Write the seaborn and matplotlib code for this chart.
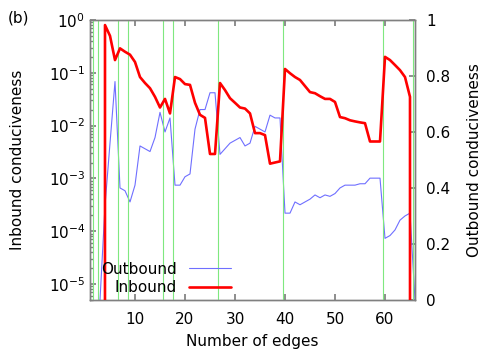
import matplotlib
matplotlib.use("Agg")
import pandas as pd
import matplotlib.pyplot as plt
import seaborn as sns
from matplotlib.ticker import LogLocator, FixedLocator, NullFormatter, NullLocator

# Datos (número de aristas 3..66)
aristas = list(range(3, 67))

inbound = [0, 0.80, 0.50, 0.174, 0.29, 0.25, 0.22, 0.16, 0.083, 0.064,
           0.051, 0.035, 0.022, 0.032, 0.017, 0.083, 0.076, 0.061, 0.059, 0.027,
           0.016, 0.014, 0.0029, 0.0029, 0.064, 0.047, 0.033, 0.027, 0.022, 0.021,
           0.017, 0.0072, 0.0072, 0.0066, 0.0019, 0.0020, 0.0021, 0.118, 0.098, 0.083,
           0.073, 0.056, 0.043, 0.041, 0.036, 0.032, 0.032, 0.028, 0.0145, 0.0138,
           0.0126, 0.012, 0.0115, 0.0111, 0.0050, 0.0050, 0.0050, 0.20, 0.174, 0.14,
           0.112, 0.083, 0.035, 0]

outbound = [0, 0.336, 0.56, 0.78, 0.40, 0.39, 0.35, 0.41, 0.55, 0.54,
            0.53, 0.58, 0.67, 0.60, 0.65, 0.41, 0.41, 0.44, 0.45, 0.61,
            0.68, 0.68, 0.74, 0.74, 0.52, 0.54, 0.56, 0.57, 0.58, 0.55,
            0.56, 0.62, 0.61, 0.60, 0.66, 0.65, 0.65, 0.31, 0.31, 0.35,
            0.34, 0.35, 0.36, 0.375, 0.365, 0.375, 0.37, 0.38, 0.40, 0.41,
            0.41, 0.41, 0.415, 0.415, 0.435, 0.435, 0.435, 0.22, 0.23, 0.25,
            0.285, 0.30, 0.31, 0]

# Posiciones de las líneas verticales
cortes = [1.5, 2.5, 6.5, 8.5, 15.5, 17.5, 26.5, 39.5, 59.5, 65.5]

df = pd.DataFrame({"Aristas": aristas, "Inbound": inbound, "Outbound": outbound})

sns.set_theme(style="white")
plt.rcParams["font.family"] = ["DejaVu Sans"]
plt.rcParams["font.size"] = 11
plt.rcParams["text.color"] = "black"
plt.rcParams["axes.labelcolor"] = "black"

fig = plt.figure(figsize=(5, 3.5), dpi=100)
ax = fig.add_axes([0.18, 0.143, 0.65, 0.8])
ax2 = ax.twinx()

# Outbound en el eje derecho (lineal)
sns.lineplot(data=df, x="Aristas", y="Outbound", ax=ax2, color="#6f6fff",
             linewidth=0.8, estimator=None, label="Outbound")

# Inbound en el eje izquierdo (logarítmico)
for c in cortes:
    ax.axvline(c, color="#7fe87f", linewidth=0.8, zorder=1)
sns.lineplot(data=df, x="Aristas", y="Inbound", ax=ax, color="#ff0000",
             linewidth=1.9, estimator=None, label="Inbound", zorder=5)

ax.set_zorder(ax2.get_zorder() + 1)
ax.patch.set_visible(False)

ax.set_yscale("log")
ax.set_ylim(5e-6, 1)
ax.set_xlim(1, 66)
ax2.set_ylim(0, 1)

ax.xaxis.set_major_locator(FixedLocator([10, 20, 30, 40, 50, 60]))
ax.xaxis.set_minor_locator(NullLocator())
ax.yaxis.set_major_locator(LogLocator(base=10, numticks=10))
ax.yaxis.set_minor_locator(LogLocator(base=10, subs=range(2, 10), numticks=20))
ax.yaxis.set_minor_formatter(NullFormatter())

ax2.set_yticks([0, 0.2, 0.4, 0.6, 0.8, 1.0])
ax2.set_yticklabels(["0", "0.2", "0.4", "0.6", "0.8", "1"])

gris = "#808080"
for a in (ax, ax2):
    for s in a.spines.values():
        s.set_color(gris)
        s.set_linewidth(1.0)
ax.tick_params(axis="x", which="major", direction="in", length=4, color=gris,
               labelcolor="black", top=True, bottom=True, labelsize=11, pad=9)
ax.tick_params(axis="y", which="major", direction="in", length=4, color=gris,
               labelcolor="black", left=True, right=False, labelsize=11)
ax.tick_params(axis="y", which="minor", direction="in", length=2, color=gris,
               left=True, right=False)
ax2.tick_params(axis="y", direction="in", length=4, color=gris, right=True,
                labelcolor="black", labelsize=11, pad=8)

ax.set_xlabel("Number of edges", fontsize=11)
ax.set_ylabel("Inbound conduciveness", fontsize=11)
ax2.set_ylabel("Outbound conduciveness", fontsize=11)
ax.xaxis.set_label_coords(0.5, -0.12)
ax.yaxis.set_label_coords(-0.2, 0.5)
ax2.yaxis.set_label_coords(1.16, 0.5)

# Leyenda combinada
h1, l1 = ax2.get_legend_handles_labels()
h2, l2 = ax.get_legend_handles_labels()
ax2.get_legend().remove()
ax.legend(h1 + h2, l1 + l2, loc="lower left", bbox_to_anchor=(0.0, -0.02),
          frameon=False, markerfirst=False, handlelength=2.8,
          fontsize=11, labelspacing=0.2, borderaxespad=0.3)

fig.text(0.015, 0.935, "(b)", fontsize=11)

fig.savefig("out.png", dpi=100)
